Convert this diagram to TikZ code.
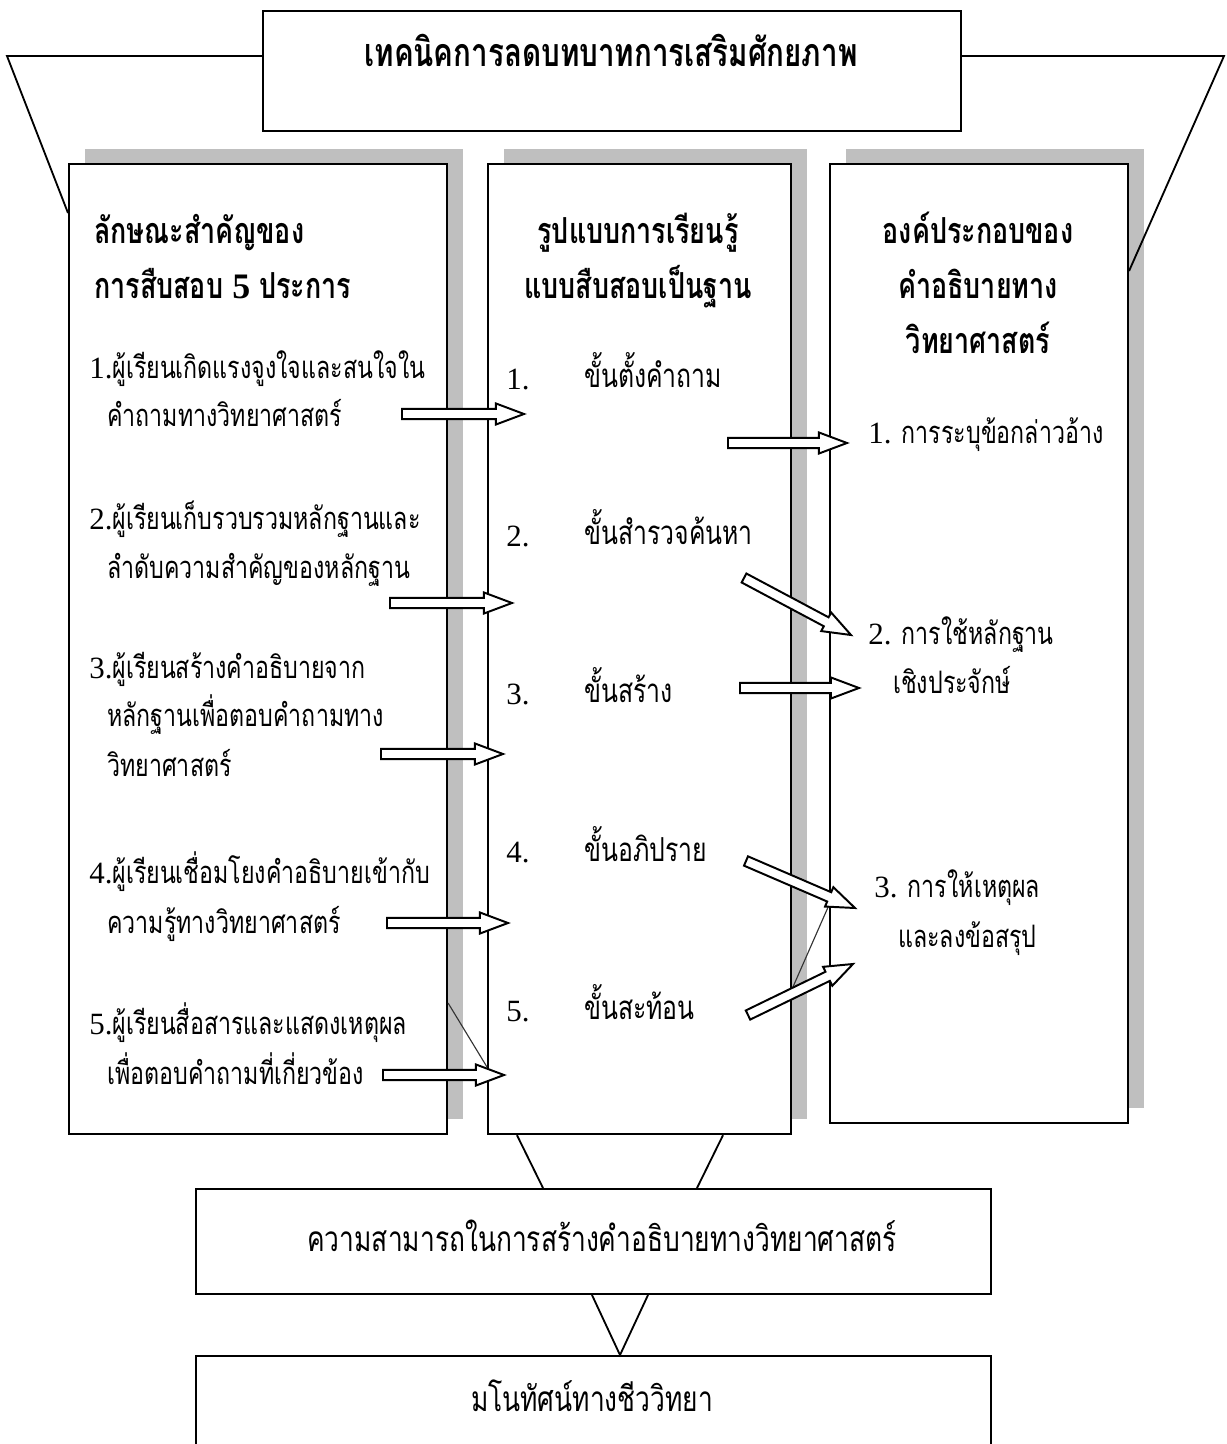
\documentclass[tikz,border=0pt]{standalone}
\usepackage{fontspec}
\setmainfont{Liberation Serif}
\newfontfamily\thaifont[Script=Thai,FakeStretch=0.75]{Loma}
\usetikzlibrary{calc,shadows}

\newcommand{\lat}[1]{{\rmfamily #1}}

% hollow block arrow: tail coordinate, tip coordinate
\newcommand{\hollowarrow}[2]{%
  \coordinate (#1-h) at ($(#2)!20pt!(#1)$);
  \draw[hollow] ($(#1)!3.6pt!90:(#2)$) -- ($(#1-h)!3.6pt!90:(#2)$)
    -- ($(#1-h)!7.5pt!90:(#2)$) -- (#2) -- ($(#1-h)!7.5pt!-90:(#2)$)
    -- ($(#1-h)!3.6pt!-90:(#2)$) -- ($(#1)!3.6pt!-90:(#2)$) -- cycle;}

\begin{document}
\begin{tikzpicture}[
    x=0.025cm, y=-0.025cm,
    panel/.style={draw=black, line width=1.4pt, fill=white, inner sep=0pt, anchor=north west},
    shaded/.style={general shadow={fill=black!25, shadow xshift=0.41cm, shadow yshift=0.375cm}},
    titletext/.style={font=\thaifont\bfseries\fontsize{28}{32}\selectfont, inner sep=0pt, text height=1ex, text depth=0pt},
    head/.style={font=\thaifont\bfseries\fontsize{25.5}{30}\selectfont, inner sep=0pt, text height=1ex, text depth=0pt},
    body/.style={font=\thaifont\fontsize{22}{26}\selectfont, inner sep=0pt, anchor=west, text height=1ex, text depth=0pt},
    stage/.style={body, font=\thaifont\fontsize{23.5}{28}\selectfont},
    big/.style={body, anchor=center, font=\thaifont\fontsize{25}{30}\selectfont},
    hollow/.style={draw=black, fill=white, line width=1.4pt, line join=miter},
    funnel/.style={draw=black, line width=1.3pt},
    thin/.style={draw=black!80, line width=0.8pt}
]
\useasboundingbox (0,0) rectangle (1227,1444);
\clip (0,0) rectangle (1227,1444);
\fill[white] (0,0) rectangle (1227,1444);

% boxes
\node[panel] (title) at (262,10) [minimum width=17.45cm, minimum height=3cm] {};
\node[panel, shaded] (left) at (68,163) [minimum width=9.45cm, minimum height=24.25cm] {};
\node[panel, shaded] (mid) at (487,163) [minimum width=7.575cm, minimum height=24.25cm] {};
\node[panel, shaded] (right) at (829,163) [minimum width=7.45cm, minimum height=23.975cm] {};
\node[panel] (ability) at (195,1188) [minimum width=19.875cm, minimum height=2.625cm] {};
\node[panel] (concept) at (195,1355) [minimum width=19.875cm, minimum height=3.25cm] {};

% funnel lines
\coordinate (tl) at (7,56);
\coordinate (tr) at (1224,56);
\draw[funnel] ($(title.north west)+(0,46)$) -- (tl) -- ($(left.north west)+(0,50)$);
\draw[funnel] ($(title.north east)+(0,46)$) -- (tr) -- ($(right.north east)+(0,108)$);
\draw[funnel] ($(mid.south west)+(30,0)$) -- ($(ability.north west)+(348,0)$);
\draw[funnel] ($(mid.south west)+(236,0)$) -- ($(ability.north west)+(502,0)$);
\draw[funnel] ($(ability.south west)+(397,0)$) -- ($(concept.north west)+(425,0)$)
    -- ($(ability.south west)+(453,0)$);
\draw[thin] ($(left.north east)+(0,840)$) -- ($(mid.north west)+(0,904)$);
\draw[thin] ($(right.north west)+(0,742)$) -- ($(mid.north east)+(0,826)$);

% title and headers
\node[titletext] (ttl) at (611,63) {เทคนิคการลดบทบาทการเสริมศักยภาพ};
\node[head, anchor=west] (lh1) at (94,240) {ลักษณะสำคัญของ};
\node[head, anchor=west] (lh2) at (94,295) {การสืบสอบ \lat{5} ประการ};
\node[head] (mh1) at (638,240) {รูปแบบการเรียนรู้};
\node[head] (mh2) at (638,295) {แบบสืบสอบเป็นฐาน};
\node[head] (rh1) at (978,240) {องค์ประกอบของ};
\node[head] (rh2) at (978,295) {คำอธิบายทาง};
\node[head] (rh3) at (978,350) {วิทยาศาสตร์};

% left column
\node[body] (l1a) at (89,375) {\lat{1.}ผู้เรียนเกิดแรงจูงใจและสนใจใน};
\node[body] (l1b) at (107,423) {คำถามทางวิทยาศาสตร์};
\node[body] (l2a) at (89,526) {\lat{2.}ผู้เรียนเก็บรวบรวมหลักฐานและ};
\node[body] (l2b) at (107,575) {ลำดับความสำคัญของหลักฐาน};
\node[body] (l3a) at (89,675) {\lat{3.}ผู้เรียนสร้างคำอธิบายจาก};
\node[body] (l3b) at (107,723) {หลักฐานเพื่อตอบคำถามทาง};
\node[body] (l3c) at (107,773) {วิทยาศาสตร์};
\node[body] (l4a) at (89,880) {\lat{4.}ผู้เรียนเชื่อมโยงคำอธิบายเข้ากับ};
\node[body] (l4b) at (107,930) {ความรู้ทางวิทยาศาสตร์};
\node[body] (l5a) at (89,1031) {\lat{5.}ผู้เรียนสื่อสารและแสดงเหตุผล};
\node[body] (l5b) at (107,1081) {เพื่อตอบคำถามที่เกี่ยวข้อง};

% middle column
\node[body] (m1n) at (506,386) {\lat{1.}};
\node[stage] (m1) at (584,384) {ขั้นตั้งคำถาม};
\node[body] (m2n) at (506,543) {\lat{2.}};
\node[stage] (m2) at (584,541) {ขั้นสำรวจค้นหา};
\node[body] (m3n) at (506,701) {\lat{3.}};
\node[stage] (m3) at (584,699) {ขั้นสร้าง};
\node[body] (m4n) at (506,859) {\lat{4.}};
\node[stage] (m4) at (584,858) {ขั้นอภิปราย};
\node[body] (m5n) at (506,1018) {\lat{5.}};
\node[stage] (m5) at (584,1016) {ขั้นสะท้อน};

% right column
\node[body] (r1) at (868,440) {\lat{1.} การระบุข้อกล่าวอ้าง};
\node[body] (r2a) at (868,641) {\lat{2.} การใช้หลักฐาน};
\node[body] (r2b) at (893,690) {เชิงประจักษ์};
\node[body] (r3a) at (874,894) {\lat{3.} การให้เหตุผล};
\node[body] (r3b) at (898,944) {และลงข้อสรุป};

% bottom boxes
\node[big] (abilitytext) at (602,1248) {ความสามารถในการสร้างคำอธิบายทางวิทยาศาสตร์};
\node[big] (concepttext) at (592,1408) {มโนทัศน์ทางชีววิทยา};

% arrows left -> middle
\coordinate (a1t) at (402,414);  \coordinate (a1h) at (524,414);
\coordinate (a2t) at (390,603);  \coordinate (a2h) at (512,603);
\coordinate (a3t) at (381,754);  \coordinate (a3h) at (503,754);
\coordinate (a4t) at (387,923);  \coordinate (a4h) at (508,923);
\coordinate (a5t) at (383,1075); \coordinate (a5h) at (504,1075);
% arrows middle -> right
\coordinate (b1t) at (728,443);  \coordinate (b1h) at (847,443);
\coordinate (b2t) at (744,578);  \coordinate (b2h) at (851,635);
\coordinate (b3t) at (740,688);  \coordinate (b3h) at (859,688);
\coordinate (b4t) at (746,861);  \coordinate (b4h) at (855,908);
\coordinate (b5t) at (748,1015); \coordinate (b5h) at (853,964);

\hollowarrow{a1t}{a1h}
\hollowarrow{a2t}{a2h}
\hollowarrow{a3t}{a3h}
\hollowarrow{a4t}{a4h}
\hollowarrow{a5t}{a5h}
\hollowarrow{b1t}{b1h}
\hollowarrow{b2t}{b2h}
\hollowarrow{b3t}{b3h}
\hollowarrow{b4t}{b4h}
\hollowarrow{b5t}{b5h}
\end{tikzpicture}
\end{document}
